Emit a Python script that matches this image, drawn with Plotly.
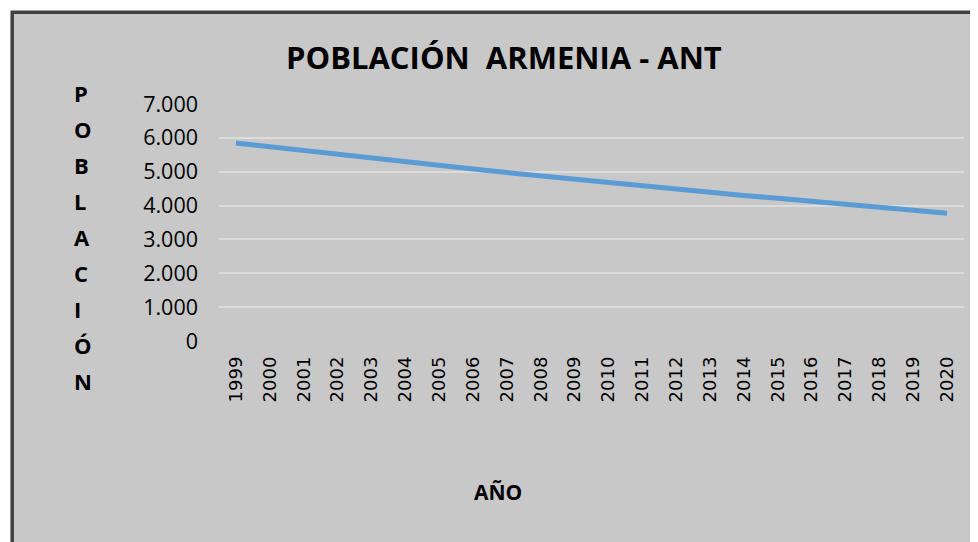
import plotly.graph_objects as go

# ---- data ----
years = list(range(1999, 2021))
poblacion = [5850, 5735, 5625, 5515, 5405, 5300, 5190, 5080, 4975, 4875, 4775,
             4680, 4580, 4480, 4390, 4300, 4215, 4130, 4045, 3955, 3865, 3776]
y_ticks = [0, 1000, 2000, 3000, 4000, 5000, 6000, 7000]
y_tick_text = ["0", "1.000", "2.000", "3.000", "4.000", "5.000", "6.000", "7.000"]
title_text = "POBLACIÓN\u00a0 ARMENIA - ANT"
y_title_letters = ["P", "O", "B", "L", "A", "C", "I", "Ó", "N"]
x_title = "AÑO"

# ---- layout geometry (figure pixels; page adds an 8px body margin) ----
OFF = 8
FW, FH = 978, 542
L, R, T, B = 219 - OFF, 964 - OFF, 104 - OFF, 341 - OFF
PW, PH = R - L, B - T

def px(xref_px):
    return (xref_px - OFF - L) / PW

def py(yref_px):
    return (B - (yref_px - OFF)) / PH

BG = "#c8c8c8"

fig = go.Figure()
fig.add_trace(go.Scatter(
    x=years, y=poblacion, mode="lines",
    line=dict(color="#5b9bd5", width=5),
    hoverinfo="x+y", showlegend=False,
))

BW = 4.2
shapes = [
    dict(type="rect", xref="paper", yref="paper",
         x0=(BW - L) / PW, x1=(FW - BW - L) / PW,
         y0=(B - BW) / PH, y1=(B - (FH - BW)) / PH,
         fillcolor=BG, line=dict(color="#404040", width=3.5), layer="below"),
]

annotations = [
    dict(text=title_text, xref="paper", yref="paper", x=px(504), y=py(57),
         xanchor="center", yanchor="middle", showarrow=False,
         font=dict(family="Open Sans", size=31, color="black", weight="bold")),
    dict(text=x_title, xref="paper", yref="paper", x=px(498), y=py(492),
         xanchor="center", yanchor="middle", showarrow=False,
         font=dict(family="Open Sans", size=21, color="black", weight="bold")),
]
for i, ch in enumerate(y_title_letters):
    annotations.append(dict(
        text=ch, xref="paper", yref="paper", x=px(72), y=py(93 + 36 * i),
        xanchor="left", yanchor="middle", showarrow=False,
        font=dict(family="Open Sans", size=22, color="black", weight="bold")))

fig.update_layout(
    width=FW, height=FH,
    margin=dict(l=L, r=FW - R, t=T, b=FH - B, pad=0),
    paper_bgcolor="white", plot_bgcolor="rgba(0,0,0,0)",
    shapes=shapes, annotations=annotations,
    xaxis=dict(
        range=[1998.5, 2020.5], tickmode="array", tickvals=years,
        ticktext=[str(y) for y in years], tickangle=-90,
        showgrid=False, zeroline=False, showline=False,
        ticks="", ticklabelstandoff=11,
        tickfont=dict(family="DejaVu Sans", size=18, color="black"),
    ),
    yaxis=dict(
        range=[0, 7000], tickmode="array", tickvals=y_ticks, ticktext=y_tick_text,
        showgrid=True, gridcolor="#dcdcdc", gridwidth=1.5,
        zeroline=False, showline=False, ticks="", ticklabelstandoff=20,
        tickfont=dict(family="Open Sans", size=21.5, color="black"),
    ),
)

fig.write_html("out.html")
